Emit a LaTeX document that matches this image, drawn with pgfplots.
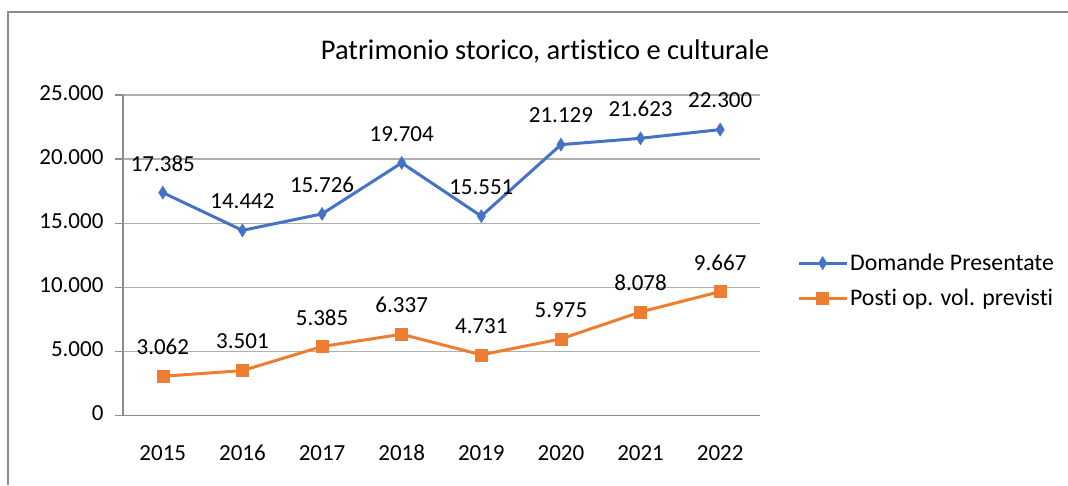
\documentclass[border=0pt]{standalone}
\usepackage{fontspec}
\setmainfont{Carlito}[Ligatures={NoCommon}]
\usepackage{pgfplots}
\pgfplotsset{compat=1.18}
\definecolor{cblue}{HTML}{4472C4}
\definecolor{corange}{HTML}{ED7D31}
\definecolor{gridc}{RGB}{175,175,175}
\definecolor{axisc}{RGB}{140,140,140}
\definecolor{framec}{RGB}{140,140,140}
\begin{document}
\begin{tikzpicture}
\useasboundingbox (0,0) rectangle (1068pt,485pt);
\draw[framec, line width=1.5pt] (8pt,0pt) -- (8pt,473pt) -- (1068pt,473pt);
\node[font=\fontsize{28.5}{34}\selectfont, anchor=center] at (545pt,434pt) {Patrimonio storico, artistico e culturale};
\begin{axis}[
  at={(123pt,69.5pt)}, anchor=south west,
  scale only axis,
  width=637pt, height=320.5pt,
  xmin=-0.5, xmax=7.5,
  ymin=0, ymax=25000,
  axis x line=bottom, axis y line=left,
  axis line style={-, axisc, line width=1.2pt},
  xtick={0,...,7},
  xticklabels={2015,2016,2017,2018,2019,2020,2021,2022},
  x tick style={draw=none},
  minor xtick={-0.5,0.5,...,7.5},
  minor x tick style={axisc, line width=1.2pt},
  minor tick length=8pt,
  ytick={0,5000,...,25000},
  y tick style={axisc, line width=1.2pt},
  major tick length=8pt,
  tick align=outside,
  ymajorgrids,
  major grid style={gridc, line width=1.2pt},
  typeset ticklabels with strut,
  every tick label/.append style={font=\fontsize{23}{27}\selectfont, black},
  xticklabel style={yshift=-15pt},
  yticklabel style={xshift=-8pt},
  /pgf/number format/.cd, 1000 sep={.}, assume math mode=true,
  /pgfplots/.cd,
  scaled y ticks=false,
  clip=false,
  nodes near coords,
  point meta=y,
  every node near coord/.append style={font=\fontsize{23}{27}\selectfont, black, anchor=center, yshift=29pt,
     /pgf/number format/.cd, fixed, precision=0, 1000 sep={.}, assume math mode=true},
  legend style={at={(1.058,0.421)}, anchor=west, draw=none, fill=none, font=\fontsize{23.8}{28}\selectfont,
     row sep=13pt, inner sep=0pt, nodes={inner sep=2pt}},
  legend cell align=left,
  legend image code/.code={\draw[mark repeat=2,mark phase=2,#1] plot coordinates {(0pt,0pt) (24pt,0pt) (48pt,0pt)};},
]
\addplot[cblue, line width=3pt, mark=diamond*, mark size=6.5pt, mark options={solid, line width=0.5pt, fill=cblue, xscale=0.85}]
 coordinates {(0,17385) (1,14442) (2,15726) (3,19704) (4,15551) (5,21129) (6,21623) (7,22300)};
\addlegendentry{Domande Presentate}
\addplot[corange, line width=3pt, mark=square*, mark size=6pt, mark options={solid, line width=0.5pt, fill=corange}]
 coordinates {(0,3062) (1,3501) (2,5385) (3,6337) (4,4731) (5,5975) (6,8078) (7,9667)};
\addlegendentry{Posti op. vol. previsti}
\end{axis}
\end{tikzpicture}
\end{document}
